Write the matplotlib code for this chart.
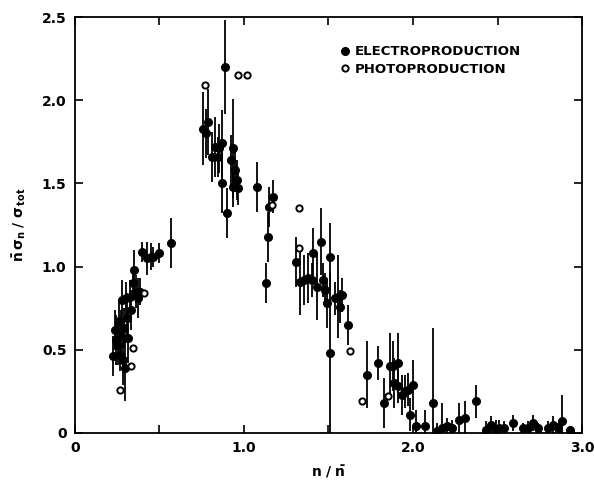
import matplotlib
matplotlib.use('Agg')
import matplotlib.pyplot as plt
from matplotlib.lines import Line2D
from matplotlib.ticker import MultipleLocator, FixedLocator, FixedFormatter

# electroproduction: n/nbar, nbar*sigma_n/sigma_tot, error
elec_x = [0.225, 0.237, 0.243, 0.254, 0.260, 0.266, 0.272, 0.278, 0.284, 0.290,
          0.296, 0.302, 0.308, 0.314, 0.325, 0.330, 0.343, 0.350, 0.360, 0.373,
          0.385, 0.400, 0.425, 0.450, 0.465, 0.500, 0.570,
          0.760, 0.775, 0.790, 0.810, 0.830, 0.845, 0.850, 0.870, 0.870, 0.890,
          0.900, 0.925, 0.935, 0.935, 0.945, 0.960, 0.965,
          1.077, 1.130, 1.140, 1.150, 1.170,
          1.310, 1.330, 1.355, 1.380, 1.400, 1.410, 1.430, 1.455, 1.470, 1.480,
          1.490, 1.510, 1.510, 1.540, 1.555, 1.570, 1.580, 1.615,
          1.730, 1.790, 1.830, 1.865, 1.880, 1.890, 1.910, 1.910, 1.935, 1.950,
          1.970, 2.000, 1.980, 2.020, 2.070, 2.120, 2.140, 2.170, 2.200, 2.230,
          2.270, 2.310, 2.370, 2.430, 2.460, 2.490, 2.510, 2.540, 2.590, 2.650,
          2.680, 2.710, 2.740, 2.800, 2.830, 2.860, 2.880, 2.930]
elec_y = [0.46, 0.62, 0.56, 0.53, 0.67, 0.47, 0.59, 0.80, 0.44, 0.63,
          0.39, 0.81, 0.69, 0.57, 0.82, 0.74, 0.90, 0.98, 0.85, 0.81,
          0.85, 1.09, 1.05, 1.06, 1.06, 1.08, 1.14,
          1.83, 1.80, 1.87, 1.66, 1.72, 1.66, 1.71, 1.74, 1.50, 2.20,
          1.32, 1.64, 1.71, 1.48, 1.58, 1.52, 1.47,
          1.48, 0.90, 1.18, 1.36, 1.42,
          1.03, 0.91, 0.92, 0.93, 0.92, 1.08, 0.88, 1.15, 0.92, 0.86,
          0.78, 1.06, 0.48, 0.81, 0.82, 0.76, 0.83, 0.65,
          0.35, 0.42, 0.18, 0.40, 0.40, 0.30, 0.42, 0.28, 0.23, 0.25,
          0.26, 0.29, 0.11, 0.04, 0.04, 0.18, 0.01, 0.03, 0.04, 0.03,
          0.08, 0.09, 0.19, 0.02, 0.05, 0.02, 0.03, 0.03, 0.06, 0.03,
          0.03, 0.06, 0.03, 0.03, 0.05, 0.03, 0.07, 0.02]
elec_err = [0.12, 0.12, 0.15, 0.12, 0.12, 0.10, 0.15, 0.12, 0.15, 0.12,
            0.20, 0.10, 0.15, 0.15, 0.10, 0.12, 0.10, 0.12, 0.10, 0.12,
            0.08, 0.06, 0.10, 0.08, 0.06, 0.06, 0.15,
            0.22, 0.15, 0.20, 0.15, 0.18, 0.12, 0.15, 0.20, 0.18, 0.28,
            0.15, 0.15, 0.30, 0.12, 0.12, 0.12, 0.10,
            0.15, 0.12, 0.15, 0.12, 0.10,
            0.15, 0.20, 0.15, 0.15, 0.10, 0.15, 0.20, 0.20, 0.10, 0.10,
            0.15, 0.20, 0.48, 0.10, 0.25, 0.10, 0.10, 0.12,
            0.20, 0.10, 0.15, 0.20, 0.15, 0.15, 0.18, 0.10, 0.12, 0.10,
            0.10, 0.15, 0.10, 0.10, 0.10, 0.45, 0.05, 0.15, 0.05, 0.05,
            0.10, 0.10, 0.10, 0.05, 0.05, 0.06, 0.05, 0.04, 0.05, 0.03,
            0.04, 0.05, 0.03, 0.04, 0.05, 0.03, 0.16, 0.02]

# photoproduction (no error bars)
photo_x = [0.266, 0.330, 0.343, 0.410, 0.770, 0.965, 1.020, 1.165, 1.325, 1.325,
           1.630, 1.700, 1.850]
photo_y = [0.26, 0.40, 0.51, 0.84, 2.09, 2.15, 2.15, 1.37, 1.35, 1.11,
           0.49, 0.19, 0.22]

fig = plt.figure(figsize=(5.94, 4.87), dpi=100)
ax = fig.add_axes([0.126, 0.111, 0.854, 0.854])

ax.errorbar(elec_x, elec_y, yerr=elec_err, fmt='o', color='black', ms=5.5,
            elinewidth=1.3, capsize=0, zorder=3)
ax.plot(photo_x, photo_y, 'o', mfc='white', mec='black', mew=1.4, ms=4.5,
        zorder=4)

ax.set_xlim(0, 3.0)
ax.set_ylim(0, 2.5)
ax.xaxis.set_major_locator(FixedLocator([0, 1.0, 2.0, 3.0]))
ax.xaxis.set_major_formatter(FixedFormatter(['0', '1.0', '2.0', '3.0']))
ax.xaxis.set_minor_locator(MultipleLocator(0.5))
ax.yaxis.set_major_locator(FixedLocator([0, 0.5, 1.0, 1.5, 2.0, 2.5]))
ax.yaxis.set_major_formatter(FixedFormatter(['0', '0.5', '1.0', '1.5', '2.0', '2.5']))
ax.tick_params(which='both', direction='in', top=True, right=True,
               length=6, width=1.2, labelsize=10, pad=6)
for lab in ax.get_xticklabels() + ax.get_yticklabels():
    lab.set_fontweight('bold')
for sp in ax.spines.values():
    sp.set_linewidth(1.3)

ax.set_xlabel(r'$\mathbf{n\ /\ \bar{n}}$', fontsize=10, labelpad=6)
ax.set_ylabel(r'$\mathbf{\bar{n}\,\sigma_n\ /\ \sigma_{\,tot}}$', fontsize=10, labelpad=10)

handles = [Line2D([], [], ls='none', marker='o', color='black', ms=5.5),
           Line2D([], [], ls='none', marker='o', mfc='white', mec='black', mew=1.4, ms=4.5)]
ax.legend(handles, ['ELECTROPRODUCTION', 'PHOTOPRODUCTION'], loc='upper left',
          bbox_to_anchor=(0.51, 0.945), frameon=False, handletextpad=0.2,
          handlelength=1.0, borderaxespad=0, labelspacing=0.35,
          prop={'weight': 'bold', 'size': 9.5})

fig.savefig('out.png', dpi=100)
